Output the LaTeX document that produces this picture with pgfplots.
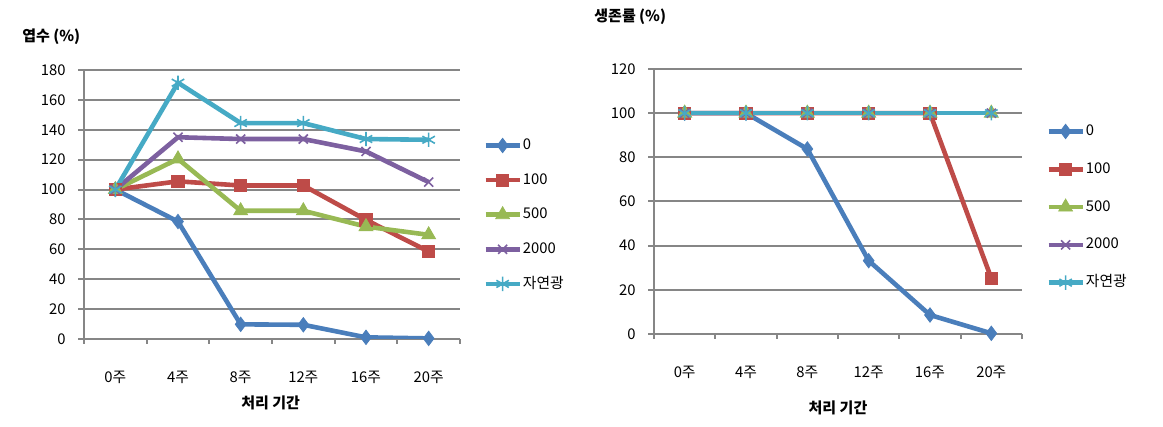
\documentclass[border=0pt]{standalone}
\usepackage{fontspec}
\setmainfont{Noto Sans CJK KR}
\usepackage{pgfplots}
\pgfplotsset{compat=1.18}
\definecolor{c0}{HTML}{4A7EBB}
\definecolor{c1}{HTML}{BE4B48}
\definecolor{c2}{HTML}{98B954}
\definecolor{c3}{HTML}{7D60A0}
\definecolor{c4}{HTML}{46AAC5}
\definecolor{gr}{HTML}{868686}
\pgfplotsset{
  excel/.style={
    scale only axis,
    axis x line*=bottom, axis y line*=left,
    axis line style={gr, line width=1pt},
    xmin=-0.5, xmax=5.5, ymin=0,
    xtick={0,...,5},
    xticklabels={0주,4주,8주,12주,16주,20주},
    minor xtick={-0.5,0.5,...,5.5},
    tick align=outside,
    major tick length=3pt, minor tick length=2.5pt,
    major x tick style={draw=none},
    every tick/.style={gr, line width=1pt},
    minor tick style={gr, line width=1pt},
    ymajorgrids,
    major grid style={gr, line width=1pt},
    /pgf/number format/assume math mode=true,
    xticklabel style={anchor=center, yshift=-16pt},
    yticklabel style={anchor=east, xshift=-6pt, inner sep=0pt},
    legend cell align=left,
    legend image code/.code={%
      \draw[##1, line width=2.3pt] (0pt,0pt) -- (17pt,0pt);
      \draw[##1] plot coordinates {(8.5pt,0pt)};},
    l0/.style={c0, line width=2.3pt, mark=diamond*, mark size=3.6pt, mark options={solid, line width=0.4pt}},
    l1/.style={c1, line width=2.3pt, mark=square*, mark size=3.1pt, mark options={solid, line width=0.4pt}},
    l2/.style={c2, line width=2.3pt, mark=triangle*, mark size=4pt, mark options={solid, line width=0.4pt}},
    l3/.style={c3, line width=2.3pt, mark=x, mark size=3.2pt, mark options={solid, line width=0.8pt}},
    l4/.style={c4, line width=2.3pt, mark=asterisk, mark size=3.6pt, mark options={solid, line width=0.8pt}},
  }
}
\begin{document}
\begin{tikzpicture}[font=\fontsize{7.4}{8.5}\selectfont]
\useasboundingbox (0,0) rectangle (581.5pt,213.5pt);
\begin{axis}[excel,
  at={(42pt,44pt)}, anchor=south west,
  width=188pt, height=134.5pt,
  ymax=180, ytick={0,20,...,180},
  legend style={draw=none, fill=none, at={(1.061,0.462)}, anchor=west,
    inner sep=0pt, row sep=9.2pt, font=\fontsize{7.4}{8.5}\selectfont,
    nodes={inner sep=0.5pt, text height=5.6pt, text depth=1.5pt}},
]
\addplot[l0] coordinates {(0,100)(1,78.6)(2,9.8)(3,9.5)(4,1.1)(5,0.4)};
\addplot[l1] coordinates {(0,100)(1,105.5)(2,102.7)(3,102.7)(4,79.7)(5,58.5)};
\addplot[l2] coordinates {(0,100)(1,120.5)(2,85.8)(3,85.8)(4,75.2)(5,69.7)};
\addplot[l3] coordinates {(0,100)(1,135)(2,133.8)(3,133.8)(4,125.5)(5,105)};
\addplot[l4] coordinates {(0,100)(1,171.5)(2,144.5)(3,144.5)(4,133.8)(5,133.3)};
\legend{0,100,500,2000,자연광}
\end{axis}
\begin{axis}[excel,
  at={(327pt,46.5pt)}, anchor=south west,
  width=184pt, height=132.5pt,
  ymax=120, ytick={0,20,...,120},
  legend style={draw=none, fill=none, at={(1.065,0.479)}, anchor=west,
    inner sep=0pt, row sep=10.8pt, font=\fontsize{7.4}{8.5}\selectfont,
    nodes={inner sep=0.5pt, text height=5.6pt, text depth=1.5pt}},
]
\addplot[l0] coordinates {(0,100)(1,100)(2,83.8)(3,33.2)(4,8.6)(5,0.3)};
\addplot[l1] coordinates {(0,100)(1,100)(2,100)(3,100)(4,100)(5,25.2)};
\addplot[l2] coordinates {(0,100)(1,100)(2,100)(3,100)(4,100)(5,100)};
\addplot[l3] coordinates {(0,100)(1,100)(2,100)(3,100)(4,100)(5,100)};
\addplot[l4] coordinates {(0,100)(1,100)(2,100)(3,100)(4,100)(5,100)};
\legend{0,100,500,2000,자연광}
\end{axis}
\node[anchor=west, inner sep=0pt, font=\fontsize{7.5}{9}\selectfont\bfseries] at (11pt,195pt) {엽수 (\%)};
\node[anchor=west, inner sep=0pt, font=\fontsize{7.5}{9}\selectfont\bfseries] at (297pt,205pt) {생존률 (\%)};
\node[inner sep=0pt, font=\fontsize{7.5}{9}\selectfont\bfseries] at (135.3pt,12pt) {처리 기간};
\node[inner sep=0pt, font=\fontsize{7.5}{9}\selectfont\bfseries] at (419pt,9.5pt) {처리 기간};
\end{tikzpicture}
\end{document}
